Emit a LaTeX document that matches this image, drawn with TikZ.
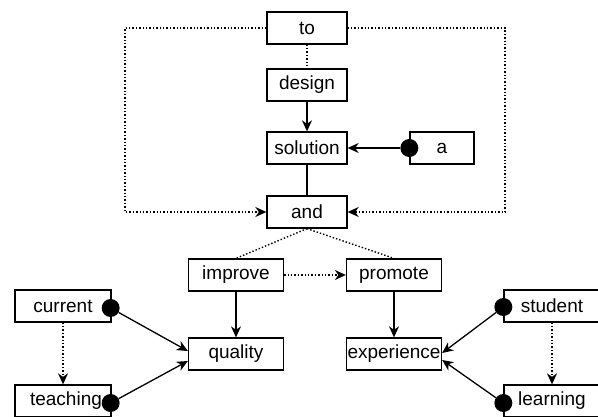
\documentclass[tikz,border=0pt]{standalone}
\usepackage{fontspec}
\setmainfont{Liberation Sans}
\usetikzlibrary{arrows.meta,calc}
\begin{document}
\begin{tikzpicture}[x=1pt,y=-1pt,
  box/.style={draw,line width=1.3pt,minimum height=32pt,inner sep=0pt,font=\fontsize{19}{21}\selectfont},
  wbox/.style={box,minimum width=80pt},
  mbox/.style={box,minimum width=95pt},
  sbox/.style={box,minimum width=96pt},
  abox/.style={box,minimum width=64pt},
  dot/.style={circle,fill=black,inner sep=0pt,minimum size=18pt},
  conn/.style={line width=1.3pt},
  dots/.style={line width=1.4pt,dash pattern=on 1.4pt off 2pt},
  tip/.style={-{Stealth[length=11pt,width=10pt,inset=3.5pt]}}
]
\useasboundingbox (0,0) rectangle (598,417);
\clip (0,0) rectangle (598,417);
% nodes
\node[wbox] (to) at (307,28) {to};
\node[wbox] (design) at (307,85) {design};
\node[wbox] (solution) at (307,148) {solution};
\node[abox] (a) at (442,148) {a};
\node[wbox] (and) at (307,212) {and};
\node[mbox] (improve) at (236,275) {improve};
\node[mbox] (promote) at (394,275) {promote};
\node[mbox] (quality) at (236,354) {quality};
\node[mbox] (experience) at (394,354) {experience};
\node[sbox] (current) at (63,306) {current};
\node[sbox] (teaching) at (63,401) {\hspace*{6pt}teaching};
\node[sbox] (student) at (552,306) {student};
\node[sbox] (learning) at (552,401) {learning};
% dots
\node[dot] (adot) at (a.west) {};
\node[dot] (cdot) at ($(current.east)+(-1,2)$) {};
\node[dot] (tdot) at ($(teaching.east)+(-1,2)$) {};
\node[dot] (sdot) at ($(student.west)+(0,1)$) {};
\node[dot] (ldot) at ($(learning.west)+(0,2)$) {};
% helper coordinates
\coordinate (lc1) at (125,28);
\coordinate (lc2) at (125,212);
\coordinate (rc1) at (505,28);
\coordinate (rc2) at (505,212);
\coordinate (q1) at ($(quality.west)+(0,-3)$);
\coordinate (q2) at ($(quality.west)+(0,7)$);
\coordinate (e1) at ($(experience.east)+(0,-1)$);
\coordinate (e2) at ($(experience.east)+(0,6)$);
% connectors
\draw[dots,tip] (to.west) -- (lc1) -- (lc2) -- (and.west);
\draw[dots,tip] (to.east) -- (rc1) -- (rc2) -- (and.east);
\draw[dots] (to) -- (design);
\draw[conn,tip] (design) -- (solution);
\draw[conn,tip] (adot) -- (solution.east);
\draw[conn] (solution) -- (and);
\draw[dots] (and.south) -- (improve.north);
\draw[dots] (and.south) -- (promote.north);
\draw[dots,tip] (improve) -- (promote);
\draw[conn,tip] (improve) -- (quality);
\draw[conn,tip] (promote) -- (experience);
\draw[dots,tip] (current) -- (teaching);
\draw[dots,tip] (student) -- (learning);
\draw[conn,tip] (cdot) -- (q1);
\draw[conn,tip] (tdot) -- (q2);
\draw[conn,tip] (sdot) -- (e1);
\draw[conn,tip] (ldot) -- (e2);
\end{tikzpicture}
\end{document}
